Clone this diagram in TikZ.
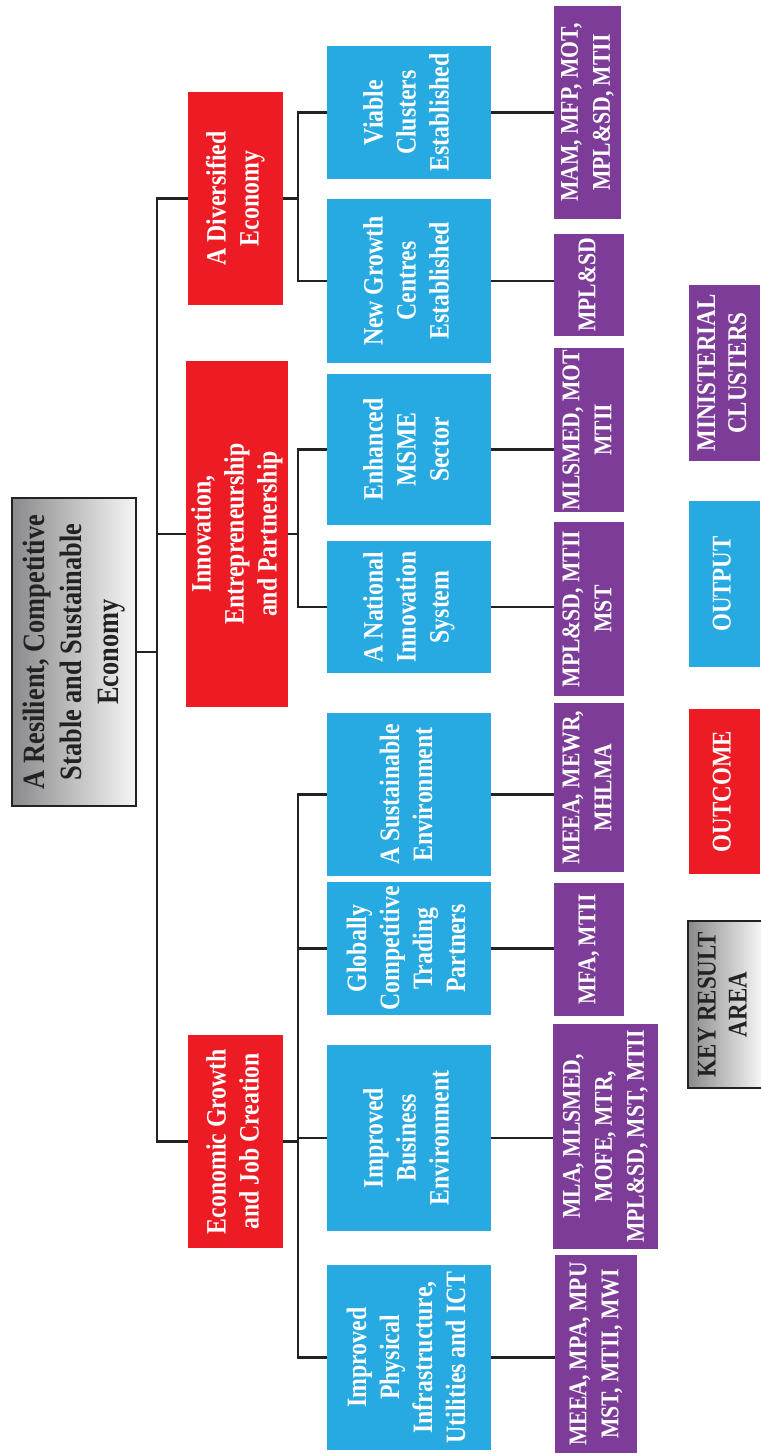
\documentclass[tikz,border=0pt]{standalone}
\usepackage{fontspec}
\setmainfont{Liberation Serif}[FakeStretch=0.85]
\usepackage{graphicx}
\definecolor{kred}{HTML}{ED1C24}
\definecolor{kblue}{HTML}{27A9E1}
\definecolor{kpurple}{HTML}{7D3C98}
\definecolor{kgrayd}{HTML}{8A8A8C}
\definecolor{kgrayl}{HTML}{F6F6F6}
\definecolor{kline}{HTML}{222222}
% text set bottom-to-top inside an upright box
\newcommand{\vtext}[1]{\rotatebox{90}{\begin{tabular}{@{}c@{}}#1\end{tabular}}}
\tikzset{
  box/.style={inner sep=0pt, outer sep=0pt, text=white},
  kra/.style={box, draw=kline, line width=1.8pt, left color=kgrayd, right color=kgrayl, text=kline},
  outcome/.style={box, fill=kred, font=\fontsize{28}{33}\selectfont\bfseries},
  output/.style={box, fill=kblue, font=\fontsize{28}{33}\selectfont\bfseries},
  cluster/.style={box, fill=kpurple, font=\fontsize{25.5}{32}\selectfont\bfseries},
  legend/.style={font=\fontsize{27}{31}\selectfont\bfseries},
  wire/.style={draw=kline, line width=2.3pt},
}
\begin{document}
\begin{tikzpicture}[x=1pt, y=-1pt]
\useasboundingbox (0,0) rectangle (760,1455);

% key result area
\node[kra, font=\fontsize{31}{37}\selectfont\bfseries, minimum width=124, minimum height=308]
  (main) at (74,652) {\vtext{A Resilient, Competitive\\Stable and Sustainable\\Economy}};

% outcomes
\node[outcome, minimum width=95, minimum height=213] (rDiv) at (235.5,198.5)
  {\vtext{A Diversified\\Economy}};
\node[outcome, minimum width=102, minimum height=346] (rInn) at (237,534)
  {\vtext{Innovation,\\Entrepreneurship\\and Partnership}};
\node[outcome, minimum width=95, minimum height=213] (rEco) at (235.5,1141.5)
  {\vtext{Economic Growth\\and Job Creation}};

% outputs
\node[output, minimum width=164, minimum height=133] (b1) at (409,112.5)
  {\vtext{Viable\\Clusters\\Established}};
\node[output, minimum width=164, minimum height=164] (b2) at (409,281)
  {\vtext{New Growth\\Centres\\Established}};
\node[output, minimum width=164, minimum height=151] (b3) at (409,449.5)
  {\vtext{Enhanced\\MSME\\Sector}};
\node[output, minimum width=164, minimum height=132] (b4) at (409,607)
  {\vtext{A National\\Innovation\\System}};
\node[output, minimum width=164, minimum height=163] (b5) at (409,794.5)
  {\vtext{A Sustainable\\Environment}};
\node[output, minimum width=164, minimum height=133] (b6) at (409,948.5)
  {\vtext{Globally\\Competitive\\Trading\\Partners}};
\node[output, minimum width=164, minimum height=186] (b7) at (409,1138)
  {\vtext{Improved\\Business\\Environment}};
\node[output, minimum width=164, minimum height=185] (b8) at (409,1357.5)
  {\vtext{Improved\\Physical\\Infrastructure,\\Utilities and ICT}};

% ministerial clusters
\node[cluster, minimum width=67, minimum height=213] (p1) at (587.5,112.5)
  {\vtext{MAM, MFP, MOT,\\MPL\&SD, MTII}};
\node[cluster, minimum width=70, minimum height=102] (p2) at (589,285)
  {\vtext{MPL\&SD}};
\node[cluster, minimum width=70, minimum height=164] (p3) at (589,430)
  {\vtext{MLSMED, MOT\\MTII}};
\node[cluster, minimum width=70, minimum height=174] (p4) at (589,609)
  {\vtext{MPL\&SD, MTII\\MST}};
\node[cluster, minimum width=70, minimum height=169] (p5) at (589,787.5)
  {\vtext{MEEA, MEWR,\\MHLMA}};
\node[cluster, minimum width=70, minimum height=133] (p6) at (589,949.5)
  {\vtext{MFA, MTII}};
\node[cluster, minimum width=105, minimum height=225] (p7) at (605.5,1136.5)
  {\vtext{MLA, MLSMED,\\MOFE, MTR,\\MPL\&SD, MST, MTII}};
\node[cluster, minimum width=82, minimum height=198] (p8) at (596,1354)
  {\vtext{MEEA, MPA, MPU\\MST, MTII, MWI}};

% legend
\node[cluster, legend, minimum width=71, minimum height=176] (lMin) at (724.5,373)
  {\vtext{MINISTERIAL\\CLUSTERS}};
\node[output, legend, minimum width=71, minimum height=166] (lOut) at (724.5,584)
  {\vtext{OUTPUT}};
\node[outcome, legend, minimum width=71, minimum height=165] (lOutc) at (724.5,791.5)
  {\vtext{OUTCOME}};
\node[kra, legend, minimum width=74, minimum height=167] (lKey) at (725,1004.5)
  {\vtext{KEY RESULT\\AREA}};

% junction points of the tree
\coordinate (jMain) at (157,652);
\coordinate (jDiv) at (298,198.5);
\coordinate (jInn) at (298,534);
\coordinate (jEco) at (298,1141.5);

% key result area to outcomes
\draw[wire] (main.east) -- (jMain);
\draw[wire] (rDiv.west) -| (jMain) |- (rEco.west);
\draw[wire] (rInn.west) -- (rInn.west -| jMain);

% outcomes to outputs
\draw[wire] (rDiv.east) -- (jDiv);
\draw[wire] (b1.west) -| (jDiv) |- (b2.west);
\draw[wire] (rInn.east) -- (jInn);
\draw[wire] (b3.west) -| (jInn) |- (b4.west);
\draw[wire] (rEco.east) -- (jEco);
\draw[wire] (b5.west) -| (jEco) |- (b8.west);
\draw[wire] (b6.west) -- (b6.west -| jEco);
\draw[wire] (b7.west) -- (b7.west -| jEco);

% outputs to ministerial clusters
\draw[wire] (b1.east) -- (b1.east -| p1.west);
\draw[wire] (b2.east) -- (b2.east -| p2.west);
\draw[wire] (b3.east) -- (b3.east -| p3.west);
\draw[wire] (b4.east) -- (b4.east -| p4.west);
\draw[wire] (b5.east) -- (b5.east -| p5.west);
\draw[wire] (b6.east) -- (b6.east -| p6.west);
\draw[wire] (b7.east) -- (b7.east -| p7.west);
\draw[wire] (b8.east) -- (b8.east -| p8.west);
\end{tikzpicture}
\end{document}
